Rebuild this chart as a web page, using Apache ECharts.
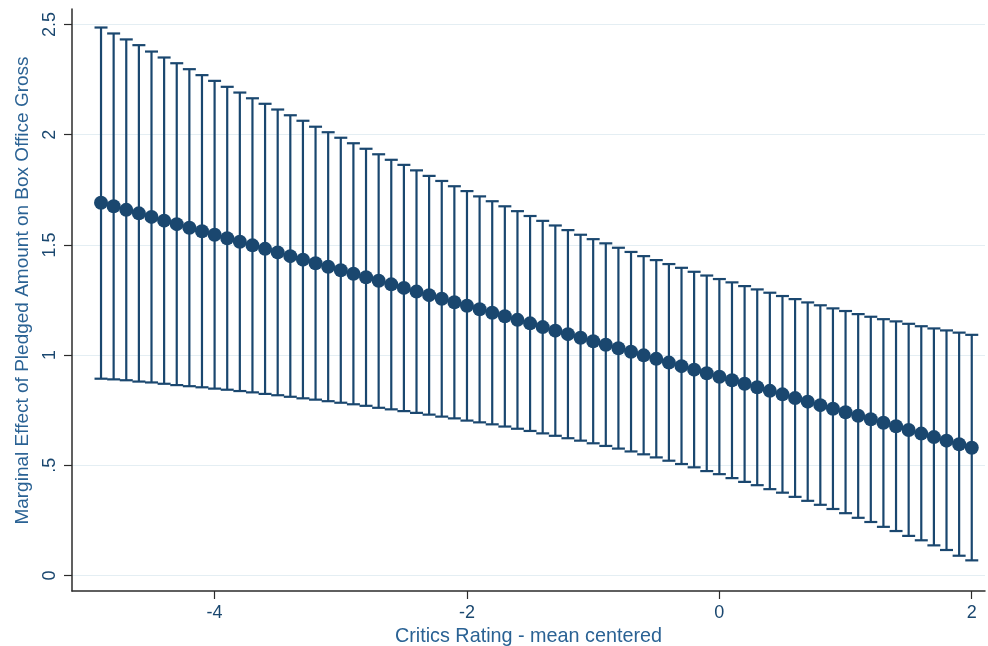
<!DOCTYPE html>
<html>
<head>
<meta charset="utf-8">
<script src="https://cdn.jsdelivr.net/npm/echarts@6/dist/echarts.min.js"></script>
<style>
html,body{margin:0;padding:0;background:#fff;}
#c{width:988px;height:646px;}
</style>
</head>
<body>
<div id="c"></div>
<script>
// Critics Rating (mean centered)
var xs = [-4.9,-4.8,-4.7,-4.6,-4.5,-4.4,-4.3,-4.2,-4.1,-4.0,
          -3.9,-3.8,-3.7,-3.6,-3.5,-3.4,-3.3,-3.2,-3.1,-3.0,
          -2.9,-2.8,-2.7,-2.6,-2.5,-2.4,-2.3,-2.2,-2.1,-2.0,
          -1.9,-1.8,-1.7,-1.6,-1.5,-1.4,-1.3,-1.2,-1.1,-1.0,
          -0.9,-0.8,-0.7,-0.6,-0.5,-0.4,-0.3,-0.2,-0.1,0.0,
          0.1,0.2,0.3,0.4,0.5,0.6,0.7,0.8,0.9,1.0,
          1.1,1.2,1.3,1.4,1.5,1.6,1.7,1.8,1.9,2.0];
// Marginal effect (point estimate)
var estimate = [1.691,1.675,1.659,1.643,1.627,1.610,1.594,1.578,1.562,1.546,
                1.530,1.514,1.498,1.482,1.466,1.449,1.433,1.417,1.401,1.385,
                1.369,1.353,1.337,1.321,1.305,1.288,1.272,1.256,1.240,1.224,
                1.208,1.192,1.176,1.160,1.144,1.127,1.111,1.095,1.079,1.063,
                1.047,1.031,1.015,0.999,0.983,0.966,0.950,0.934,0.918,0.902,
                0.886,0.870,0.854,0.838,0.822,0.805,0.789,0.773,0.757,0.741,
                0.725,0.709,0.693,0.677,0.660,0.644,0.628,0.612,0.596,0.580];
// Upper confidence limit
var upper = [2.486,2.459,2.432,2.406,2.377,2.350,2.324,2.297,2.270,2.244,
             2.217,2.191,2.165,2.140,2.114,2.088,2.063,2.036,2.011,1.986,
             1.961,1.936,1.911,1.886,1.863,1.838,1.813,1.790,1.766,1.744,
             1.720,1.698,1.675,1.653,1.631,1.609,1.588,1.567,1.546,1.526,
             1.507,1.487,1.468,1.449,1.431,1.413,1.396,1.378,1.361,1.345,
             1.330,1.313,1.298,1.283,1.268,1.254,1.239,1.226,1.212,1.200,
             1.186,1.174,1.163,1.153,1.142,1.131,1.121,1.112,1.102,1.092];
// Lower confidence limit
var lower = [0.893,0.890,0.886,0.880,0.876,0.870,0.864,0.859,0.854,0.848,
             0.843,0.837,0.831,0.824,0.818,0.811,0.804,0.798,0.791,0.784,
             0.777,0.770,0.761,0.754,0.746,0.738,0.730,0.721,0.713,0.703,
             0.695,0.686,0.676,0.666,0.656,0.645,0.634,0.623,0.612,0.600,
             0.588,0.576,0.563,0.550,0.536,0.521,0.506,0.491,0.474,0.460,
             0.442,0.425,0.410,0.392,0.376,0.357,0.339,0.321,0.302,0.283,
             0.262,0.243,0.221,0.202,0.180,0.160,0.137,0.116,0.090,0.069];

var xTickValues = [-4, -2, 0, 2];
var xTickLabels = ['-4', '-2', '0', '2'];
var yTickValues = [0, 0.5, 1, 1.5, 2, 2.5];
var yTickLabels = ['0', '.5', '1', '1.5', '2', '2.5'];

var navy = '#1a476f';
var titleBlue = '#2a6294';
var font = '"Liberation Sans", Arial, Helvetica, sans-serif';

var ciData = xs.map(function (x, i) { return [x, lower[i], upper[i]]; });
var estData = xs.map(function (x, i) { return [x, estimate[i]]; });

function labelFor(values, labels) {
  return function (v) {
    for (var i = 0; i < values.length; i++) {
      if (Math.abs(values[i] - v) < 1e-9) return labels[i];
    }
    return '';
  };
}

var chart = echarts.init(document.getElementById('c'), null, {renderer: 'canvas'});
chart.setOption({
  backgroundColor: '#ffffff',
  animation: false,
  grid: {left: 72, right: 3, top: 9, bottom: 55, containLabel: false, outerBoundsMode: 'none'},
  xAxis: {
    type: 'value',
    min: -5.13,
    max: 2.105,
    name: 'Critics Rating - mean centered',
    nameLocation: 'middle',
    nameGap: 35,
    nameTextStyle: {color: titleBlue, fontSize: 19.8, fontFamily: font},
    axisLine: {show: true, onZero: false, lineStyle: {color: '#2b2b2b', width: 1.5}},
    axisTick: {show: true, length: 8, customValues: xTickValues, lineStyle: {color: '#2b2b2b', width: 1.2}},
    axisLabel: {show: true, customValues: xTickValues, formatter: labelFor(xTickValues, xTickLabels),
                color: navy, fontSize: 18, fontFamily: font, margin: 13},
    splitLine: {show: false}
  },
  yAxis: {
    type: 'value',
    min: -0.07,
    max: 2.57,
    name: 'Marginal Effect of Pledged Amount on Box Office Gross',
    nameLocation: 'middle',
    nameGap: 40,
    nameRotate: 90,
    nameTextStyle: {color: titleBlue, fontSize: 19, fontFamily: font, padding: [0, 0, 0, 19]},
    axisLine: {show: true, onZero: false, lineStyle: {color: '#2b2b2b', width: 1.5}},
    axisTick: {show: true, length: 8, customValues: yTickValues, lineStyle: {color: '#2b2b2b', width: 1.2}},
    axisLabel: {show: true, customValues: yTickValues, formatter: labelFor(yTickValues, yTickLabels),
                rotate: 90, color: navy, fontSize: 18, fontFamily: font, margin: 13},
    splitLine: {show: true, lineStyle: {color: '#e4eef3', width: 1.2}}
  },
  series: [
    {
      type: 'custom',
      name: 'CI',
      data: ciData,
      encode: {x: 0, y: [1, 2]},
      z: 2,
      renderItem: function (params, api) {
        var x = api.value(0), lo = api.value(1), hi = api.value(2);
        var pHi = api.coord([x, hi]);
        var pLo = api.coord([x, lo]);
        var hw = 6.5;
        var st = {stroke: navy, lineWidth: 2.2, fill: null};
        return {
          type: 'group',
          children: [
            {type: 'line', shape: {x1: pHi[0], y1: pHi[1], x2: pLo[0], y2: pLo[1]}, style: st},
            {type: 'line', shape: {x1: pHi[0] - hw, y1: pHi[1], x2: pHi[0] + hw, y2: pHi[1]}, style: st},
            {type: 'line', shape: {x1: pLo[0] - hw, y1: pLo[1], x2: pLo[0] + hw, y2: pLo[1]}, style: st}
          ]
        };
      }
    },
    {
      type: 'line',
      name: 'Estimate',
      data: estData,
      z: 3,
      symbol: 'circle',
      symbolSize: 14,
      showSymbol: true,
      itemStyle: {color: navy, borderWidth: 0},
      lineStyle: {color: navy, width: 2}
    }
  ]
});
</script>
</body>
</html>
